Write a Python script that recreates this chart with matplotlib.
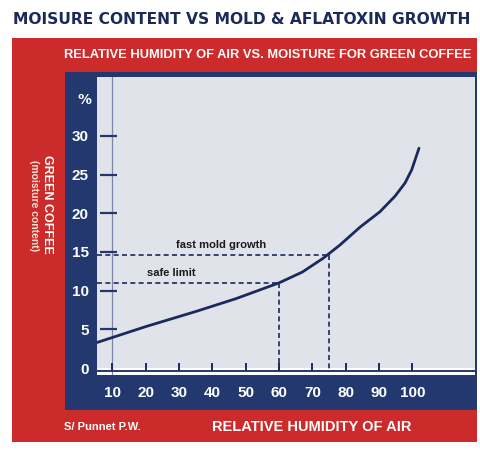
import matplotlib.pyplot as plt
from matplotlib.patches import Rectangle

# values
humidity = [5.4, 20, 35, 47, 60, 67, 73.3, 78.3, 84.3, 90.3, 94.8, 97.8, 99.8, 102]
moisture = [3.3, 5.35, 7.3, 8.95, 11.0, 12.4, 14.2, 15.9, 18.2, 20.2, 22.2, 23.9, 25.6, 28.4]
x_ticks = [10, 20, 30, 40, 50, 60, 70, 80, 90, 100]
y_ticks = [0, 5, 10, 15, 20, 25, 30]
limits = [("safe limit", 60, 11.0, 20.5, 11.6),
          ("fast mold growth", 75, 14.6, 29, 15.2)]

RED = "#cc2b2b"
NAVY = "#22386e"
LINE = "#1b2a5c"
GREY = "#e1e3ea"
W, H = 480, 450

fig = plt.figure(figsize=(W / 100, H / 100), dpi=100)
fig.patch.set_facecolor("white")


def box(x0, y0, x1, y1, color):
    # pixel coords from top-left
    fig.add_artist(Rectangle((x0 / W, 1 - y1 / H), (x1 - x0) / W, (y1 - y0) / H,
                             transform=fig.transFigure, color=color, lw=0, zorder=0))


def ftext(x, y, s, **kw):
    fig.text(x / W, 1 - y / H, s, **kw)


box(12, 38, 477, 442, RED)
box(65, 72, 477, 410, NAVY)

ftext(242, 20, "MOISURE CONTENT VS MOLD & AFLATOXIN GROWTH", ha="center", va="center",
      fontsize=11.2, fontweight="heavy", color="#1c2a5a", family="DejaVu Sans")
narrow = "Liberation Sans"
ftext(268, 55, "RELATIVE HUMIDITY OF AIR VS. MOISTURE FOR GREEN COFFEE", ha="center",
      va="center", fontsize=9.3, fontweight="bold", color="white", family=narrow)
ftext(312, 427, "RELATIVE HUMIDITY OF AIR", ha="center", va="center",
      fontsize=10.5, fontweight="bold", color="white", family=narrow)
ftext(64, 427, "S/ Punnet P.W.", ha="left", va="center",
      fontsize=8, fontweight="bold", color="white", family=narrow)
ftext(47, 204, "GREEN COFFEE", ha="center", va="center", rotation=-90,
      fontsize=9, fontweight="bold", color="white", family=narrow)
ftext(34, 206, "(moisture content)", ha="center", va="center", rotation=-90,
      fontsize=7.5, fontweight="bold", color="#f6e3d6", family=narrow)
ftext(85, 100, "%", ha="center", va="center", fontsize=10, fontweight="bold", color="white")

ax = fig.add_axes([97 / W, 1 - 375 / H, 378 / W, 298 / H])
ax.set_facecolor(GREY)
for s in ax.spines.values():
    s.set_visible(False)
ax.set_xlim(5.4, 118.8)
ax.set_ylim(-0.9, 37.6)

# axis lines
ax.axhline(-0.35, color="white", lw=5, zorder=1)
ax.axhline(-0.35, color=NAVY, lw=1.4, zorder=2)
ax.axvline(10, color="#7d86a8", lw=0.9, zorder=1)

# tick marks drawn inside
ax.vlines(x_ticks, -0.35, 0.7, color=LINE, lw=1.4, zorder=3)
ax.hlines(y_ticks[1:], 6.3, 11.4, color=NAVY, lw=1.6, zorder=3)

ax.set_xticks(x_ticks)
ax.set_yticks(y_ticks)
ax.tick_params(length=0, labelcolor="white", labelsize=11)
ax.tick_params(axis="x", pad=8)
ax.tick_params(axis="y", pad=6)
for lab in ax.get_xticklabels() + ax.get_yticklabels():
    lab.set_fontweight("bold")
    lab.set_family("Liberation Sans")

ax.plot(humidity, moisture, color=LINE, lw=2, solid_capstyle="round",
        solid_joinstyle="round", zorder=4)

for name, hx, my, tx, ty in limits:
    ax.plot([5.4, hx], [my, my], color=LINE, lw=1.2, ls=(0, (3, 2)), zorder=3)
    ax.plot([hx, hx], [my, -0.35], color=LINE, lw=1.2, ls=(0, (3, 2)), zorder=3)
    ax.text(tx, ty, name, fontsize=8, fontweight="bold", color="#1a1a1a",
            ha="left", va="bottom", family="Liberation Sans")

fig.savefig("out.png", dpi=100)
